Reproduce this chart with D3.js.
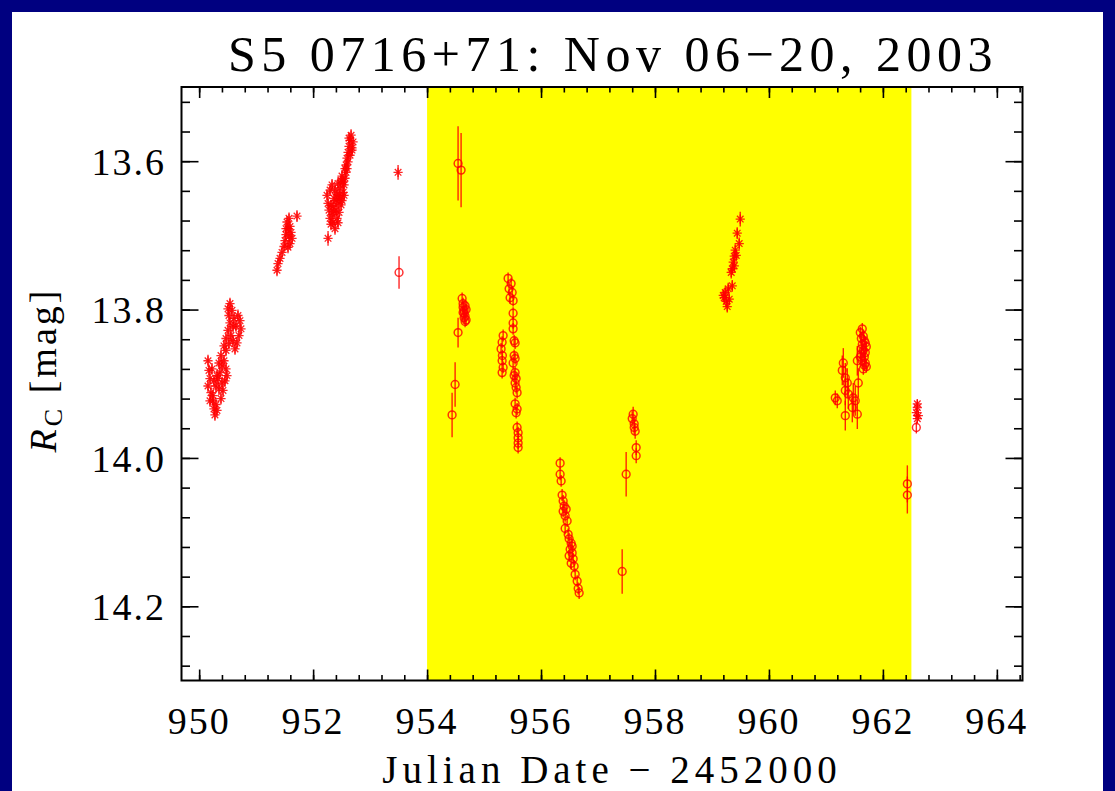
<!DOCTYPE html>
<html><head><meta charset="utf-8">
<script src="https://cdn.jsdelivr.net/npm/d3@7"></script>
<style>html,body{margin:0;padding:0;background:#000080}svg{display:block}</style>
</head><body>
<svg id="chart" width="1115" height="791"></svg>
<script>
// ---------- text ----------
const titleText = "S5 0716+71: Nov 06\u221220, 2003";
const xAxisLabel = "Julian Date \u2212 2452000";
// ---------- axes ----------
const xTickValues = [950, 952, 954, 956, 958, 960, 962, 964];
const yTickValues = [13.6, 13.8, 14.0, 14.2];
const xDomain = [949.69, 964.45];
const yDomain = [13.5, 14.3];
// shaded campaign interval
const shadeStart = 954.0, shadeEnd = 962.5;

// ---------- data: [JD-2452000, R_C mag, error] ----------
// asterisk symbols
const night1Stars = [
 [950.155,13.869,0.008],[950.172,13.882,0.008],[950.190,13.893,0.008],[950.155,13.903,0.008],
 [950.207,13.912,0.008],[950.242,13.923,0.008],[950.260,13.934,0.008],[950.277,13.942,0.008],
 [950.295,13.928,0.008],[950.242,13.916,0.008],[950.295,13.903,0.008],[950.330,13.893,0.008],
 [950.365,13.885,0.008],[950.400,13.876,0.008],[950.436,13.869,0.008],[950.471,13.880,0.008],
 [950.453,13.896,0.008],[950.418,13.909,0.008],[950.383,13.920,0.008],[950.348,13.907,0.008],
 [950.313,13.889,0.008],[950.348,13.872,0.008],[950.383,13.862,0.008],[950.225,13.880,0.008],
 [950.260,13.896,0.008],[950.488,13.889,0.008],[950.400,13.899,0.008],[950.190,13.923,0.008],
 [950.313,13.936,0.008],[950.436,13.849,0.008],[950.471,13.839,0.008],[950.506,13.828,0.008],
 [950.541,13.818,0.008],[950.523,13.808,0.008],[950.506,13.799,0.008],[950.541,13.792,0.008],
 [950.576,13.801,0.008],[950.611,13.812,0.008],[950.646,13.822,0.008],[950.681,13.808,0.008],
 [950.716,13.815,0.008],[950.734,13.826,0.008],[950.699,13.835,0.008],[950.664,13.845,0.008],
 [950.629,13.853,0.008],[950.594,13.842,0.008],[950.558,13.835,0.008],[950.594,13.823,0.008],
 [950.523,13.846,0.008],[950.471,13.855,0.008]
];
const night2Stars = [
 [951.366,13.747,0.008],[951.384,13.738,0.008],[951.419,13.731,0.008],[951.454,13.723,0.008],
 [951.489,13.715,0.008],[951.507,13.707,0.008],[951.524,13.699,0.008],[951.559,13.691,0.008],
 [951.542,13.682,0.008],[951.577,13.677,0.008],[951.594,13.688,0.008],[951.612,13.696,0.008],
 [951.630,13.704,0.008],[951.594,13.711,0.008],[951.559,13.716,0.008],[951.524,13.691,0.008],
 [951.577,13.701,0.008],[951.717,13.674,0.008]
];
const night3Stars = [
 [952.244,13.646,0.008],[952.262,13.657,0.008],[952.279,13.666,0.008],[952.297,13.677,0.008],
 [952.314,13.685,0.008],[952.332,13.672,0.008],[952.349,13.661,0.008],[952.367,13.650,0.008],
 [952.384,13.639,0.008],[952.402,13.666,0.008],[952.420,13.677,0.008],[952.437,13.657,0.008],
 [952.455,13.646,0.008],[952.472,13.636,0.008],[952.490,13.626,0.008],[952.507,13.653,0.008],
 [952.525,13.642,0.008],[952.543,13.632,0.008],[952.560,13.623,0.008],[952.578,13.615,0.008],
 [952.297,13.639,0.008],[952.349,13.682,0.008],[952.402,13.653,0.008],[952.455,13.669,0.008],
 [952.490,13.659,0.008],[952.543,13.646,0.008],[952.384,13.691,0.008],[952.332,13.632,0.008],
 [952.437,13.630,0.008],[952.507,13.620,0.008],[952.578,13.605,0.008],[952.595,13.596,0.008],
 [952.613,13.588,0.008],[952.630,13.580,0.008],[952.648,13.572,0.008],[952.666,13.565,0.008],
 [952.683,13.582,0.008],[952.701,13.574,0.008],[952.648,13.592,0.008],[952.613,13.601,0.008],
 [952.683,13.585,0.008],[952.630,13.569,0.008],[952.262,13.704,0.010],[953.491,13.615,0.010],
 [952.367,13.668,0.008],[952.420,13.645,0.008],[952.472,13.650,0.008],[952.525,13.628,0.008],
 [952.314,13.660,0.008],[952.560,13.610,0.008],[952.437,13.683,0.008],[952.595,13.610,0.008]
];
const night10Stars = [
 [959.496,13.678,0.010],[959.443,13.697,0.008],[959.478,13.711,0.008],[959.408,13.720,0.008],
 [959.391,13.728,0.008],[959.373,13.736,0.008],[959.356,13.745,0.008],[959.426,13.727,0.008],
 [959.338,13.750,0.008],[959.391,13.741,0.008],[959.356,13.768,0.008],[959.285,13.772,0.008],
 [959.233,13.777,0.008],[959.215,13.784,0.008],[959.250,13.789,0.008],[959.268,13.796,0.008],
 [959.198,13.781,0.008],[959.303,13.786,0.008]
];
const night13Stars = [
 [962.604,13.927,0.006],[962.604,13.932,0.006],[962.587,13.939,0.006],[962.622,13.943,0.006],
 [962.604,13.947,0.006]
];
// circle symbols
const night4Circles = [[953.508,13.750,0.022]];
const night5Circles = [
 [954.544,13.603,0.050],[954.597,13.612,0.050],
 [954.615,13.785,0.008],[954.632,13.792,0.008],[954.632,13.797,0.008],[954.650,13.801,0.008],
 [954.650,13.805,0.008],[954.667,13.809,0.008],[954.685,13.814,0.008],[954.667,13.816,0.008],
 [954.632,13.804,0.008],[954.685,13.800,0.008],[954.650,13.811,0.008],[954.667,13.795,0.008],
 [954.544,13.831,0.020],[954.492,13.901,0.030],[954.439,13.942,0.030]
];
const night6Circles = [
 [955.335,13.835,0.008],[955.317,13.844,0.008],[955.299,13.853,0.008],[955.322,13.862,0.008],
 [955.317,13.869,0.008],[955.335,13.878,0.008],[955.317,13.885,0.008],
 [955.422,13.758,0.008],[955.475,13.765,0.008],[955.440,13.772,0.008],[955.493,13.777,0.008],
 [955.457,13.784,0.008],[955.510,13.788,0.008],[955.510,13.805,0.008],[955.510,13.818,0.008],
 [955.510,13.826,0.008],[955.528,13.842,0.008],[955.545,13.845,0.008],[955.528,13.862,0.008],
 [955.545,13.866,0.008],[955.510,13.872,0.008],[955.545,13.885,0.008],[955.528,13.889,0.008],
 [955.563,13.893,0.008],[955.545,13.899,0.008],[955.563,13.905,0.008],[955.580,13.912,0.008],
 [955.545,13.927,0.008],[955.580,13.934,0.008],[955.563,13.939,0.008],[955.580,13.959,0.008],
 [955.598,13.966,0.008],[955.598,13.973,0.008],[955.598,13.980,0.008],[955.598,13.986,0.008]
];
const night7Circles = [
 [956.335,14.007,0.008],[956.335,14.022,0.008],[956.353,14.031,0.008],[956.370,14.050,0.008],
 [956.388,14.058,0.008],[956.406,14.065,0.008],[956.388,14.072,0.008],[956.441,14.069,0.008],
 [956.423,14.078,0.008],[956.458,14.085,0.008],[956.423,14.095,0.008],[956.476,14.103,0.008],
 [956.493,14.109,0.008],[956.529,14.115,0.008],[956.511,14.123,0.008],[956.546,14.128,0.008],
 [956.493,14.132,0.008],[956.564,14.136,0.008],[956.529,14.142,0.008],[956.581,14.146,0.008],
 [956.546,14.119,0.008],[956.599,14.157,0.008],[956.634,14.166,0.008],[956.652,14.176,0.008],
 [956.669,14.182,0.008]
];
const night8Circles = [
 [957.494,14.022,0.030],[957.424,14.153,0.030],
 [957.617,13.941,0.010],[957.600,13.947,0.010],[957.635,13.954,0.010],[957.652,13.964,0.010],
 [957.670,13.986,0.010],[957.670,13.997,0.010],[957.635,13.959,0.010]
];
const night12Circles = [
 [961.305,13.872,0.020],[961.287,13.882,0.020],[961.340,13.892,0.020],[961.375,13.899,0.020],
 [961.340,13.909,0.020],[961.164,13.919,0.010],[961.199,13.923,0.010],[961.393,13.914,0.020],
 [961.480,13.919,0.020],[961.463,13.932,0.020],[961.340,13.943,0.020],[961.551,13.941,0.020],
 [961.515,13.923,0.020],[961.568,13.899,0.020],[961.551,13.869,0.020],
 [961.603,13.831,0.008],[961.621,13.839,0.008],[961.638,13.847,0.008],[961.656,13.855,0.008],
 [961.674,13.864,0.008],[961.638,13.869,0.008],[961.691,13.872,0.008],[961.709,13.877,0.008],
 [961.656,13.880,0.008],[961.603,13.864,0.008],[961.621,13.853,0.008],[961.674,13.842,0.008],
 [961.709,13.850,0.008],[961.638,13.826,0.008],[961.691,13.858,0.008],
 [961.656,13.836,0.008],[961.621,13.860,0.008],[961.691,13.845,0.008],[961.674,13.875,0.008],
 [962.429,14.035,0.025],[962.429,14.050,0.025],[962.587,13.959,0.008]
];

const starSets = [night1Stars, night2Stars, night3Stars, night10Stars, night13Stars];
const circleSets = [night4Circles, night5Circles, night6Circles, night7Circles, night8Circles, night12Circles];

// ---------- layout ----------
const W = 1115, H = 791;
const plot = {left: 181.5, right: 1022.5, top: 87, bottom: 680.5};
const RED = "#ff0000";

const svg = d3.select("#chart");
svg.append("rect").attr("width", W).attr("height", H).attr("fill", "#000080");
svg.append("rect").attr("x", 12).attr("y", 12).attr("width", 1091).attr("height", H - 12).attr("fill", "#ffffff");

const x = d3.scaleLinear().domain(xDomain).range([plot.left, plot.right]);
const y = d3.scaleLinear().domain(yDomain).range([plot.top, plot.bottom]);

svg.append("clipPath").attr("id", "clip").append("rect")
  .attr("x", plot.left).attr("y", plot.top)
  .attr("width", plot.right - plot.left).attr("height", plot.bottom - plot.top);

const g = svg.append("g").attr("clip-path", "url(#clip)");
g.append("rect")
  .attr("x", x(shadeStart)).attr("y", plot.top)
  .attr("width", x(shadeEnd) - x(shadeStart)).attr("height", plot.bottom - plot.top)
  .attr("fill", "#ffff00");

const allStars = starSets.flat();
const allCircles = circleSets.flat();

// error bars
g.selectAll("line.err").data(allStars.concat(allCircles)).join("line")
  .attr("class", "err")
  .attr("x1", d => x(d[0])).attr("x2", d => x(d[0]))
  .attr("y1", d => y(d[1] - d[2])).attr("y2", d => y(d[1] + d[2]))
  .attr("stroke", RED).attr("stroke-width", 1.4).attr("stroke-opacity", 0.85);

// asterisks
const s = 4.6, dd = 3.3;
const starPath = `M${-s},0L${s},0M0,${-s}L0,${s}M${-dd},${-dd}L${dd},${dd}M${-dd},${dd}L${dd},${-dd}`;
g.selectAll("path.star").data(allStars).join("path")
  .attr("class", "star")
  .attr("transform", d => `translate(${x(d[0])},${y(d[1])})`)
  .attr("d", starPath)
  .attr("fill", "none").attr("stroke", RED).attr("stroke-width", 1.3).attr("stroke-opacity", 0.85);

// circles
g.selectAll("circle.pt").data(allCircles).join("circle")
  .attr("class", "pt")
  .attr("cx", d => x(d[0])).attr("cy", d => y(d[1])).attr("r", 3.9)
  .attr("fill", "none").attr("stroke", RED).attr("stroke-width", 1.5).attr("stroke-opacity", 0.8);

// ---------- axes (inward ticks on all four sides) ----------
const xMinor = d3.range(950, 964.5, 0.4).filter(v => v >= xDomain[0] && v <= xDomain[1]);
const yMinor = d3.range(13.52, 14.3, 0.04);

function tickGroup(axis, transform) {
  const a = svg.append("g").attr("transform", transform).call(axis);
  a.select(".domain").remove();
  a.selectAll("line").attr("stroke", "#000").attr("stroke-width", 1.6);
  a.selectAll("text").remove();
  return a;
}
tickGroup(d3.axisBottom(x).tickValues(xTickValues).tickSize(-11), `translate(0,${plot.bottom})`);
tickGroup(d3.axisBottom(x).tickValues(xMinor).tickSize(-5.5), `translate(0,${plot.bottom})`);
tickGroup(d3.axisTop(x).tickValues(xTickValues).tickSize(-11), `translate(0,${plot.top})`);
tickGroup(d3.axisTop(x).tickValues(xMinor).tickSize(-5.5), `translate(0,${plot.top})`);
tickGroup(d3.axisLeft(y).tickValues(yTickValues).tickSize(-17), `translate(${plot.left},0)`);
tickGroup(d3.axisLeft(y).tickValues(yMinor).tickSize(-8.5), `translate(${plot.left},0)`);
tickGroup(d3.axisRight(y).tickValues(yTickValues).tickSize(-17), `translate(${plot.right},0)`);
tickGroup(d3.axisRight(y).tickValues(yMinor).tickSize(-8.5), `translate(${plot.right},0)`);

svg.append("rect")
  .attr("x", plot.left).attr("y", plot.top)
  .attr("width", plot.right - plot.left).attr("height", plot.bottom - plot.top)
  .attr("fill", "none").attr("stroke", "#000").attr("stroke-width", 2);

// ---------- labels ----------
const FONT = "'Liberation Serif', 'Times New Roman', serif";
svg.selectAll("text.xt").data(xTickValues).join("text")
  .attr("class", "xt")
  .attr("x", d => x(d)).attr("y", 734)
  .attr("text-anchor", "middle")
  .attr("font-family", FONT).attr("font-size", 38).attr("letter-spacing", 2)
  .attr("fill", "#000")
  .text(d3.format("d"));

svg.selectAll("text.yt").data(yTickValues).join("text")
  .attr("class", "yt")
  .attr("x", 166).attr("y", d => y(d)).attr("dy", "0.36em")
  .attr("text-anchor", "end")
  .attr("font-family", FONT).attr("font-size", 38).attr("letter-spacing", 2)
  .attr("fill", "#000")
  .text(d3.format(".1f"));

svg.append("text")
  .attr("x", 613).attr("y", 71)
  .attr("text-anchor", "middle")
  .attr("font-family", FONT).attr("font-size", 50).attr("letter-spacing", 5.5)
  .attr("fill", "#000")
  .text(titleText);

svg.append("text")
  .attr("x", 612).attr("y", 783)
  .attr("text-anchor", "middle")
  .attr("font-family", FONT).attr("font-size", 39).attr("letter-spacing", 5)
  .attr("fill", "#000")
  .text(xAxisLabel);

const yl = svg.append("text")
  .attr("transform", "translate(56,370) rotate(-90)")
  .attr("text-anchor", "middle")
  .attr("font-family", FONT).attr("font-size", 38).attr("letter-spacing", 3)
  .attr("fill", "#000");
yl.append("tspan").attr("font-style", "italic").text("R");
yl.append("tspan").attr("font-size", 26).attr("dy", 6).text("C");
yl.append("tspan").attr("dy", -6).text(" [mag]");
</script>
</body></html>
